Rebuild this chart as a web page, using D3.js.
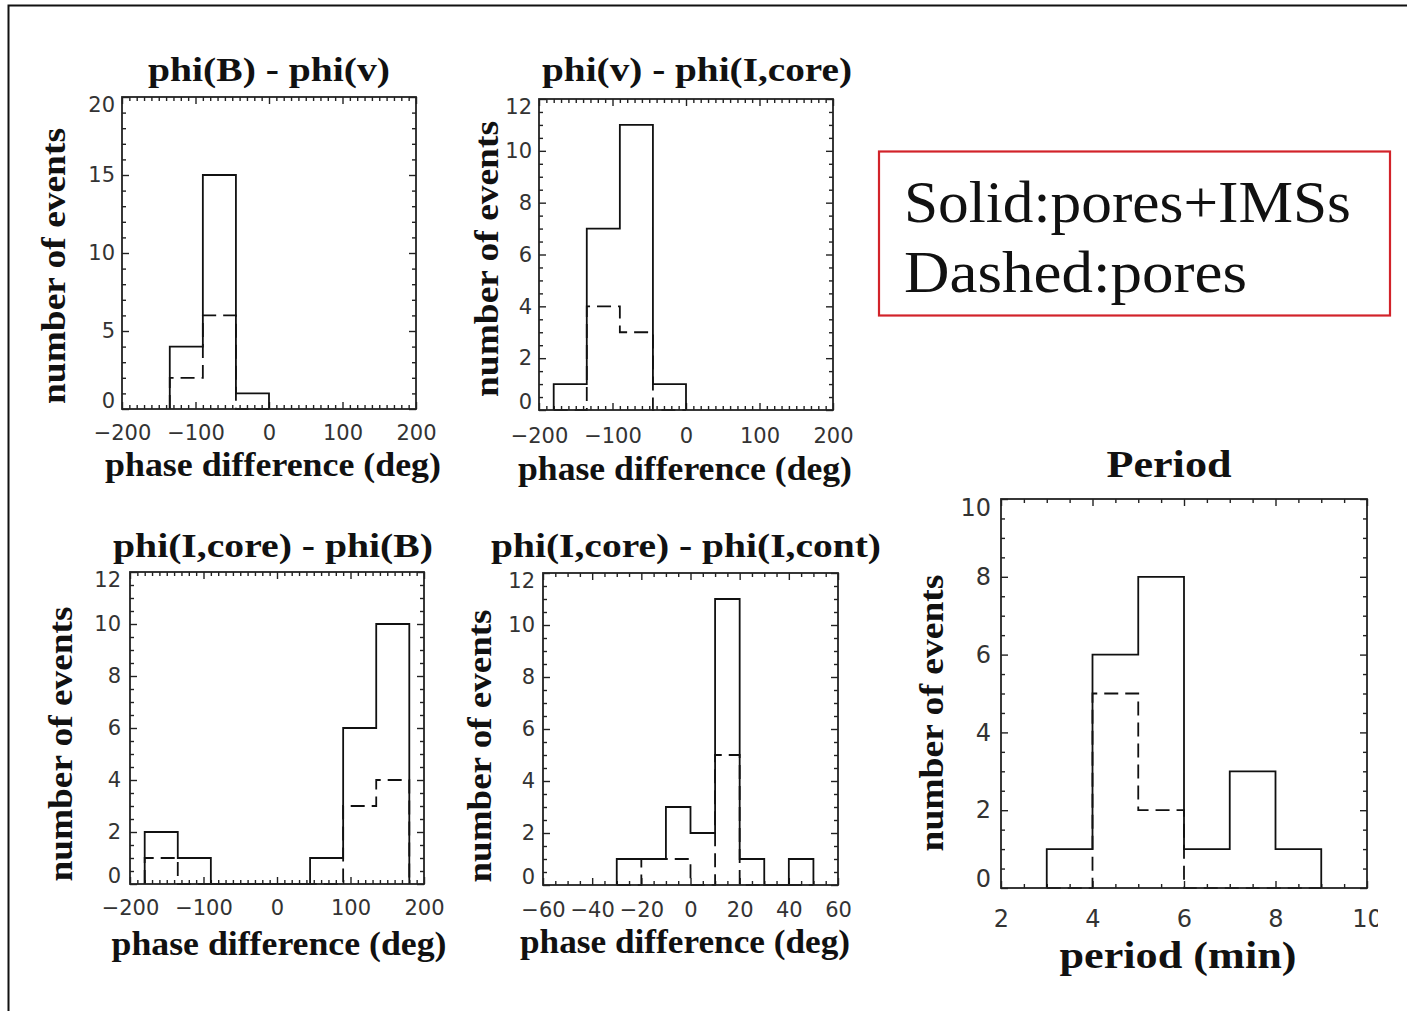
<!DOCTYPE html>
<html><head><meta charset="utf-8">
<script src="https://cdn.jsdelivr.net/npm/d3@7"></script>
<style>html,body{margin:0;padding:0;background:#fff}svg{display:block}</style>
</head><body>
<svg id="c" width="1407" height="1011"></svg>
<script>
// ---------------- data ----------------
const titles = ["phi(B) - phi(v)", "phi(v) - phi(I,core)", "phi(I,core) - phi(B)", "phi(I,core) - phi(I,cont)", "Period"];
const xTitles = ["phase difference (deg)", "phase difference (deg)", "phase difference (deg)", "phase difference (deg)", "period (min)"];
const yTitle = "number of events";
const legendLines = ["Solid:pores+IMSs", "Dashed:pores"];

const p1Edges = [-135, -90, -45, 0];
const p1Solid = [4, 15, 1];
const p1Dashed = [2, 6, 0];
const p1XTicks = [-200, -100, 0, 100, 200];
const p1YTicks = [0, 5, 10, 15, 20];

const p2Edges = [-180, -135, -90, -45, 0];
const p2Solid = [1, 7, 11, 1];
const p2Dashed = [0, 4, 3, 0];
const p2XTicks = [-200, -100, 0, 100, 200];
const p2YTicks = [0, 2, 4, 6, 8, 10, 12];

const p3Edges = [-180, -135, -90, -45, 0, 45, 90, 135, 180];
const p3Solid = [2, 1, 0, 0, 0, 1, 6, 10];
const p3Dashed = [1, 0, 0, 0, 0, 0, 3, 4];
const p3XTicks = [-200, -100, 0, 100, 200];
const p3YTicks = [0, 2, 4, 6, 8, 10, 12];

const p4Edges = [-30, -20, -10, 0, 10, 20, 30, 40, 50];
const p4Solid = [1, 1, 3, 2, 11, 1, 0, 1];
const p4Dashed = [0, 1, 1, 0, 5, 0, 0, 0];
const p4XTicks = [-60, -40, -20, 0, 20, 40, 60];
const p4YTicks = [0, 2, 4, 6, 8, 10, 12];

const p5Edges = [3, 4, 5, 6, 7, 8, 9];
const p5Solid = [1, 6, 8, 1, 3, 1];
const p5Dashed = [0, 5, 2, 0, 0, 0];
const p5XTicks = [2, 4, 6, 8, 10];
const p5YTicks = [0, 2, 4, 6, 8, 10];

// ---------------- layout ----------------
const layout = [
  {box:[122,416,97,409], xDom:[-200,200], yDom:[0,20], xMin:10, yMin:1, titleX:269, titleY:81, titleW:242,
   xtX:273, xtY:476, xtW:336, ytX:65, ytY:266, ytW:276, xPad:16, yPad:7, fs:21},
  {box:[539,833,99,410], xDom:[-200,200], yDom:[0,12], xMin:10, yMin:0.5, titleX:697, titleY:81, titleW:310,
   xtX:685, xtY:480, xtW:334, ytX:498, ytY:259, ytW:276, xPad:18, yPad:7, fs:21},
  {box:[130,424,572,884], xDom:[-200,200], yDom:[0,12], xMin:10, yMin:0.5, titleX:273, titleY:557, titleW:320,
   xtX:279, xtY:955, xtW:335, ytX:72, ytY:744, ytW:275, xPad:16, yPad:9, fs:21},
  {box:[543,838,573,885], xDom:[-60,60], yDom:[0,12], xMin:5, yMin:0.5, titleX:686, titleY:557, titleW:390,
   xtX:685, xtY:953, xtW:330, ytX:491, ytY:746, ytW:273, xPad:17, yPad:8, fs:21},
  {box:[1001,1367,499,888], xDom:[2,10], yDom:[0,10], xMin:0.5, yMin:0.5, titleX:1169, titleY:477, titleW:125,
   xtX:1178, xtY:968, xtW:237, ytX:943, ytY:713, ytW:277, xPad:22, yPad:10, fs:24}
];
const series = [
  [p1Edges,p1Solid,p1Dashed,p1XTicks,p1YTicks],
  [p2Edges,p2Solid,p2Dashed,p2XTicks,p2YTicks],
  [p3Edges,p3Solid,p3Dashed,p3XTicks,p3YTicks],
  [p4Edges,p4Solid,p4Dashed,p4XTicks,p4YTicks],
  [p5Edges,p5Solid,p5Dashed,p5XTicks,p5YTicks]
];

const svg = d3.select("#c");
const serifB = "'Liberation Serif', 'Times New Roman', serif";
const sans = "'DejaVu Sans', sans-serif";

// outer frame (top and left edges)
svg.append("path").attr("d","M8.5,1011 V5.5 H1407")
  .attr("fill","none").attr("stroke","#111").attr("stroke-width",2);

// clip for the cut-off right edge of the period axis label
svg.append("defs").append("clipPath").attr("id","cut")
  .append("rect").attr("x",0).attr("y",0).attr("width",1378).attr("height",1011);

function stepPts(edges, counts){
  const pts = [[edges[0],0]];
  counts.forEach((c,i)=>{ pts.push([edges[i],c]); pts.push([edges[i+1],c]); });
  pts.push([edges[edges.length-1],0]);
  return pts;
}
function minorVals(dom, step, majors){
  const out=[];
  const n=Math.round((dom[1]-dom[0])/step);
  for(let i=0;i<=n;i++){
    const v=+(dom[0]+i*step).toFixed(6);
    if(!majors.some(m=>Math.abs(m-v)<1e-9)) out.push(v);
  }
  return out;
}

layout.forEach((L,k)=>{
  const [edges,solid,dashed,xT,yT] = series[k];
  const [x0,x1,y0,y1] = L.box;
  const x = d3.scaleLinear().domain(L.xDom).range([x0,x1]);
  const y = d3.scaleLinear().domain(L.yDom).range([y1,y0]);
  const g = svg.append("g").attr("clip-path", k===4 ? "url(#cut)" : null);
  const fmt = d3.format("d");
  const majLen=7, minLen=4;

  function styleAxis(sel, labels){
    sel.select(".domain").remove();
    sel.selectAll(".tick line").attr("stroke","#222").attr("stroke-width",1.4);
    sel.selectAll(".tick text").attr("fill", labels ? "#333" : "none")
      .style("font-family",sans).style("font-size",L.fs+"px");
  }
  // major + minor ticks, 4 sides, pointing inward
  const xMinors = minorVals(L.xDom, L.xMin, xT);
  const yMinors = minorVals(L.yDom, L.yMin, yT);
  g.append("g").attr("transform",`translate(0,${y1})`)
    .call(d3.axisBottom(x).tickValues(xT).tickFormat(fmt).tickSize(-majLen).tickPadding(L.xPad))
    .call(s=>styleAxis(s,true));
  g.append("g").attr("transform",`translate(0,${y1})`)
    .call(d3.axisBottom(x).tickValues(xMinors).tickFormat("").tickSize(-minLen)).call(s=>styleAxis(s,false));
  g.append("g").attr("transform",`translate(0,${y0})`)
    .call(d3.axisTop(x).tickValues(xT).tickFormat("").tickSize(-majLen)).call(s=>styleAxis(s,false));
  g.append("g").attr("transform",`translate(0,${y0})`)
    .call(d3.axisTop(x).tickValues(xMinors).tickFormat("").tickSize(-minLen)).call(s=>styleAxis(s,false));
  const yl = g.append("g").attr("transform",`translate(${x0},0)`)
    .call(d3.axisLeft(y).tickValues(yT).tickFormat(fmt).tickSize(-majLen).tickPadding(L.yPad))
    .call(s=>styleAxis(s,true));
  // end labels sit inside the axis span, as in the original
  const yTexts = yl.selectAll(".tick text").nodes();
  d3.select(yTexts[0]).attr("dy","-0.05em");
  d3.select(yTexts[yTexts.length-1]).attr("dy","0.68em");
  g.append("g").attr("transform",`translate(${x0},0)`)
    .call(d3.axisLeft(y).tickValues(yMinors).tickFormat("").tickSize(-minLen)).call(s=>styleAxis(s,false));
  g.append("g").attr("transform",`translate(${x1},0)`)
    .call(d3.axisRight(y).tickValues(yT).tickFormat("").tickSize(-majLen)).call(s=>styleAxis(s,false));
  g.append("g").attr("transform",`translate(${x1},0)`)
    .call(d3.axisRight(y).tickValues(yMinors).tickFormat("").tickSize(-minLen)).call(s=>styleAxis(s,false));

  // histograms
  const line = d3.line().x(d=>x(d[0])).y(d=>y(d[1]));
  g.append("path").attr("d", line(stepPts(edges,dashed)))
    .attr("fill","none").attr("stroke","#111").attr("stroke-width",1.8)
    .attr("stroke-dasharray","14,7");
  g.append("path").attr("d", line(stepPts(edges,solid)))
    .attr("fill","none").attr("stroke","#111").attr("stroke-width",1.8);

  // plot box
  g.append("rect").attr("x",x0).attr("y",y0).attr("width",x1-x0).attr("height",y1-y0)
    .attr("fill","none").attr("stroke","#222").attr("stroke-width",1.8);

  // titles
  const tfs = k===4 ? 37 : 34;
  svg.append("text").attr("x",L.titleX).attr("y",L.titleY).attr("text-anchor","middle")
    .style("font-family",serifB).style("font-weight","bold").style("font-size",tfs+"px")
    .attr("textLength",L.titleW).attr("lengthAdjust","spacingAndGlyphs").attr("fill","#111")
    .text(titles[k]);
  svg.append("text").attr("x",L.xtX).attr("y",L.xtY).attr("text-anchor","middle")
    .style("font-family",serifB).style("font-weight","bold").style("font-size",(k===4?38:33)+"px")
    .attr("textLength",L.xtW).attr("lengthAdjust","spacingAndGlyphs").attr("fill","#111")
    .text(xTitles[k]);
  svg.append("text").attr("transform",`translate(${L.ytX},${L.ytY}) rotate(-90)`).attr("text-anchor","middle")
    .style("font-family",serifB).style("font-weight","bold").style("font-size","34px")
    .attr("textLength",L.ytW).attr("lengthAdjust","spacingAndGlyphs").attr("fill","#111")
    .text(yTitle);
});

// legend box
svg.append("rect").attr("x",879).attr("y",151.5).attr("width",511).attr("height",164)
  .attr("fill","none").attr("stroke","#d2232a").attr("stroke-width",2.2);
const legY = [222, 292], legW = [447, 343];
legendLines.forEach((t,i)=>{
  svg.append("text").attr("x", 904).attr("y", legY[i])
    .style("font-family","'Liberation Serif', serif").style("font-size","60px")
    .attr("textLength",legW[i]).attr("lengthAdjust","spacingAndGlyphs").attr("fill","#111")
    .text(t);
});
</script>
</body></html>
